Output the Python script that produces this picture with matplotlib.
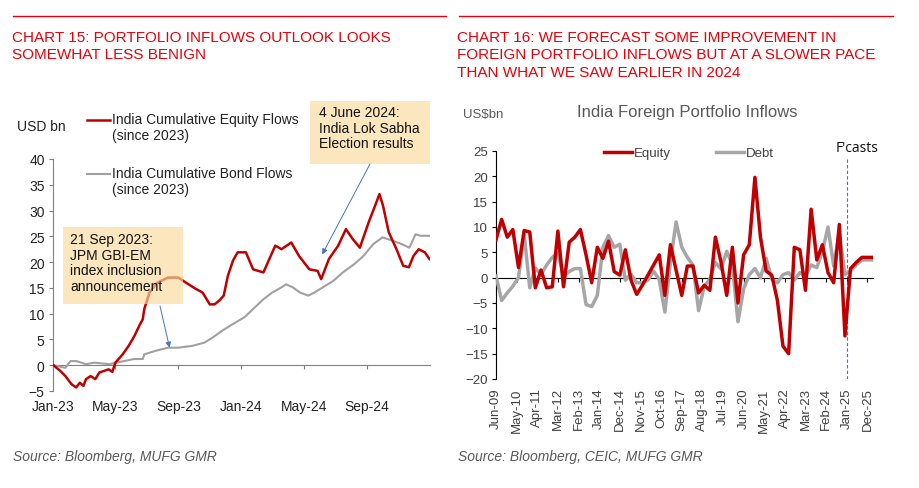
import matplotlib
matplotlib.use("Agg")
import matplotlib.pyplot as plt
import matplotlib.dates as mdates
import pandas as pd
from matplotlib.lines import Line2D
from matplotlib.patches import Rectangle

W, H = 920, 489

# ---- Chart 15: cumulative flows since 2023 (USD bn) ----
eq_dates = ["2023-01-02", "2023-01-15", "2023-01-25", "2023-02-06", "2023-02-15", "2023-02-22",
            "2023-03-01", "2023-03-06", "2023-03-15", "2023-03-24", "2023-04-01", "2023-04-10",
            "2023-04-19", "2023-04-26", "2023-05-02", "2023-05-16", "2023-05-28", "2023-06-08",
            "2023-06-17", "2023-06-24", "2023-06-27", "2023-07-07", "2023-07-22", "2023-08-12",
            "2023-09-01", "2023-09-16", "2023-10-05", "2023-10-18", "2023-11-01", "2023-11-10",
            "2023-11-19", "2023-11-28", "2023-12-06", "2023-12-16", "2023-12-25", "2024-01-10",
            "2024-01-24", "2024-02-13", "2024-03-07", "2024-03-19", "2024-04-07", "2024-04-22",
            "2024-05-12", "2024-05-28", "2024-06-04", "2024-06-19", "2024-07-07", "2024-07-22",
            "2024-08-04", "2024-08-18", "2024-09-04", "2024-09-19", "2024-09-25", "2024-10-02",
            "2024-10-13", "2024-10-28", "2024-11-10", "2024-11-21", "2024-11-30", "2024-12-10",
            "2024-12-22", "2024-12-31"]
eq_vals = [0, -1.1, -2.1, -3.7, -4.3, -3.4,
           -4.0, -2.7, -2.1, -2.7, -1.4, -1.1,
           -0.8, -1.3, 0.5, 2.1, 3.8, 5.7,
           7.6, 8.9, 10.9, 14.1, 16.0, 17.0,
           17.0, 16.0, 14.8, 14.1, 11.8, 11.8,
           12.5, 13.5, 17.3, 20.3, 21.9, 21.9,
           18.6, 18.0, 23.2, 22.5, 23.8, 21.2,
           18.6, 18.3, 16.7, 20.6, 23.2, 26.4,
           24.5, 22.8, 27.7, 31.6, 33.2, 30.9,
           25.8, 22.5, 19.3, 19.0, 21.2, 22.5,
           21.9, 20.6]

bond_dates = ["2023-01-02", "2023-01-25", "2023-02-04", "2023-02-15", "2023-02-25", "2023-03-06",
              "2023-03-22", "2023-04-21", "2023-05-02", "2023-05-19", "2023-06-07", "2023-06-24",
              "2023-06-27", "2023-07-19", "2023-08-12", "2023-09-01", "2023-09-28", "2023-10-22",
              "2023-11-07", "2023-11-25", "2023-12-16", "2024-01-07", "2024-01-24", "2024-02-13",
              "2024-03-01", "2024-03-19", "2024-03-28", "2024-04-10", "2024-04-24", "2024-05-10",
              "2024-05-22", "2024-06-07", "2024-06-28", "2024-07-16", "2024-08-07", "2024-08-25",
              "2024-09-13", "2024-10-01", "2024-10-10", "2024-10-22", "2024-11-07", "2024-11-22",
              "2024-12-04", "2024-12-14", "2024-12-31"]
bond_vals = [0, -0.5, 0.8, 0.8, 0.5, 0.2,
             0.5, 0.2, 0.5, 0.8, 1.2, 1.2,
             2.1, 2.8, 3.4, 3.4, 3.75, 4.4,
             5.4, 6.7, 8.0, 9.3, 10.9, 12.8,
             14.1, 15.1, 15.7, 15.1, 14.1, 13.5,
             14.1, 15.1, 16.4, 18.0, 19.6, 21.2,
             23.5, 24.8, 24.5, 24.1, 23.5, 22.8,
             25.4, 25.1, 25.1]

left_ticks = ["2023-01-01", "2023-05-01", "2023-09-01", "2024-01-01", "2024-05-01", "2024-09-01"]
left_ticklabels = ["Jan-23", "May-23", "Sep-23", "Jan-24", "May-24", "Sep-24"]

# ---- Chart 16: quarterly foreign portfolio flows (US$bn), Jun-09 onwards ----
q_start = "2009-06-01"
equity_q = [7.5, 11.5, 8, 9.5, 2, 9.3, 9, -2, 1.5, -2,
            -1.8, 9.2, -1.8, 7, 8, 9.5, 4.5, -1, 6, 3.8,
            7.2, 1.2, 0.5, 5.5, -0.5, -3.3, -1.5, 0.5, 2.5, 4.5,
            -3.5, 6.5, 1.5, -3.5, 2.3, 2.3, -3, -1.5, -2.5, 8,
            3, -3.5, 6, -5, 4.5, 6.5, 19.8, 8, 1.3, 0.5,
            -4.5, -13.5, -15, 6, 5.5, -2.5, 13.5, 3.5, 6.5, 1,
            -1, 10.5, -11.5, 1.8, 3, 4, 4, 4]
debt_q = [0.3, -4.5, -3, -1.7, 0, 8.5, -2, 1.9, 0.6, 2.5,
          4, 4.9, 0.3, 1.2, 1.8, 1.8, -5.3, -5.7, -3.5, 6,
          8.3, 6, 6.6, -0.5, 0.7, -1, -1, -0.5, 1.3, -0.4,
          -6.8, 3, 11, 6, 4, 2.5, -6.5, -1.7, -0.3, 3,
          1.7, 5.2, 2.5, -8.7, -2.2, 0.6, 1.8, 0, 3.8, -0.3,
          -1, 0.6, 1, -0.5, 1, 0.2, 2.5, 2, 5.2, 10,
          2.3, 9, 0.6, 1.3, 2.5, 3.5, 3.5, 3.5]
right_ticklabels = ["Jun-09", "May-10", "Apr-11", "Mar-12", "Feb-13", "Jan-14", "Dec-14",
                    "Nov-15", "Oct-16", "Sep-17", "Aug-18", "Jul-19", "Jun-20", "May-21",
                    "Apr-22", "Mar-23", "Feb-24", "Jan-25", "Dec-25"]
forecast_start = "2025-01-01"

RED = "#C00000"
GREY = "#A6A6A6"
TXT = "#404040"
HEAD_RED = "#E8000B"
BODY = ["Liberation Sans", "DejaVu Sans"]

plt.rcParams["font.family"] = BODY


def fx(x):
    return x / W


def fy(y):
    return 1 - y / H


fig = plt.figure(figsize=(W / 100, H / 100), dpi=100)

# headers
for x0, x1 in [(13, 446), (459, 893)]:
    fig.add_artist(Line2D([fx(x0), fx(x1)], [fy(17), fy(17)], color=HEAD_RED, lw=1))
fig.text(fx(12), fy(31), "CHART 15: PORTFOLIO INFLOWS OUTLOOK LOOKS\nSOMEWHAT LESS BENIGN",
         va="top", ha="left", color=HEAD_RED, size=11, linespacing=1.3)
fig.text(fx(457), fy(31), "CHART 16: WE FORECAST SOME IMPROVEMENT IN\n"
         "FOREIGN PORTFOLIO INFLOWS BUT AT A SLOWER PACE\nTHAN WHAT WE SAW EARLIER IN 2024",
         va="top", ha="left", color=HEAD_RED, size=11, linespacing=1.3)
fig.text(fx(13), fy(457), "Source: Bloomberg, MUFG GMR", style="italic", color="#595959",
         size=10, va="center")
fig.text(fx(458), fy(457), "Source: Bloomberg, CEIC, MUFG GMR", style="italic", color="#595959",
         size=10, va="center")

# ================= left chart =================
axL = fig.add_axes([fx(53), fy(392), fx(377), 232 / H])
xe = mdates.date2num(pd.to_datetime(eq_dates))
xb = mdates.date2num(pd.to_datetime(bond_dates))
axL.plot(xb, bond_vals, color="#A0A0A0", lw=1.5, zorder=3)
axL.plot(xe, eq_vals, color=RED, lw=1.8, zorder=4)

axL.set_ylim(-5, 40)
axL.set_yticks(range(-5, 41, 5))
axL.set_xlim(mdates.date2num(pd.Timestamp("2023-01-01")), mdates.date2num(pd.Timestamp("2025-01-01")))
lt = mdates.date2num(pd.to_datetime(left_ticks))
axL.set_xticks(lt)
axL.tick_params(axis="x", labelbottom=False, length=3, color="#808080", direction="out")
axL.tick_params(axis="y", length=3, color="#808080", labelsize=10, pad=3, labelcolor="#222222")
for s in ["top", "right"]:
    axL.spines[s].set_visible(False)
axL.spines["left"].set_color("#808080")
axL.spines["bottom"].set_color("#808080")
axL.spines["bottom"].set_position(("data", 0))
secL = axL.secondary_xaxis("bottom")
secL.set_xticks(lt, labels=left_ticklabels)
secL.tick_params(length=0, pad=6, labelsize=10, labelcolor="#222222")
secL.spines["bottom"].set_visible(False)

fig.text(fx(17), fy(127), "USD bn", size=10, va="center", color="#222222")
fig.add_artist(Line2D([fx(87), fx(110)], [fy(121), fy(121)], color=RED, lw=1.8))
fig.text(fx(112), fy(113), "India Cumulative Equity Flows\n(since 2023)", va="top", size=10,
         color="#222222", linespacing=1.15)
fig.add_artist(Line2D([fx(87), fx(110)], [fy(175), fy(175)], color="#A0A0A0", lw=1.5))
fig.text(fx(112), fy(167), "India Cumulative Bond Flows\n(since 2023)", va="top", size=10,
         color="#222222", linespacing=1.15)

# annotation boxes
for (x0, y0, x1, y1) in [(310, 102, 430, 165), (63, 228, 183, 305)]:
    axL.add_patch(Rectangle((fx(x0), fy(y1)), fx(x1 - x0), (y1 - y0) / H, transform=fig.transFigure,
                            facecolor="#F9D99A", edgecolor="none", alpha=0.65, clip_on=False, zorder=6))
axL.text(fx(319), fy(106), "4 June 2024:\nIndia Lok Sabha\nElection results", transform=fig.transFigure,
         va="top", size=10, color="#111111", linespacing=1.15, zorder=7)
axL.text(fx(70), fy(233), "21 Sep 2023:\nJPM GBI-EM\nindex inclusion\nannouncement", transform=fig.transFigure,
         va="top", size=10, color="#111111", linespacing=1.15, zorder=7)
arrow = dict(arrowstyle="-|>", color="#4472C4", lw=0.7, mutation_scale=8, shrinkA=0, shrinkB=0)
axL.annotate("", xy=(mdates.date2num(pd.Timestamp("2024-06-06")), 21.5), xycoords="data",
             xytext=(fx(370), fy(165)), textcoords="figure fraction", arrowprops=arrow,
             annotation_clip=False, zorder=7)
axL.annotate("", xy=(mdates.date2num(pd.Timestamp("2023-08-15")), 3.4), xycoords="data",
             xytext=(fx(160), fy(307)), textcoords="figure fraction", arrowprops=arrow,
             annotation_clip=False, zorder=7)

# ================= right chart =================
axR = fig.add_axes([fx(496), fy(380), fx(377), 228 / H])
qd = pd.date_range(q_start, periods=len(equity_q), freq="3MS")
xq = mdates.date2num(qd)
axR.plot(xq, debt_q, color=GREY, lw=2.5, label="Debt", zorder=3)
axR.plot(xq, equity_q, color=RED, lw=2.5, label="Equity", zorder=4)
axR.set_xlim(xq[0], xq[-1])
axR.set_ylim(-20, 25)
axR.set_yticks(range(-20, 26, 5))
rt = mdates.date2num(pd.date_range(q_start, periods=len(right_ticklabels), freq="11MS"))
axR.set_xticks(rt)
axR.tick_params(axis="x", labelbottom=False, length=3, color="black", direction="out")
axR.tick_params(axis="y", length=3, color="black", labelsize=9.5, pad=3, labelcolor=TXT)
for s in ["top", "right"]:
    axR.spines[s].set_visible(False)
axR.spines["left"].set_color("black")
axR.spines["bottom"].set_color("black")
axR.spines["bottom"].set_linewidth(0.8)
axR.spines["bottom"].set_position(("data", 0))
secR = axR.secondary_xaxis("bottom")
secR.set_xticks(rt, labels=right_ticklabels, rotation=90)
secR.tick_params(length=0, pad=6, labelsize=9.5, labelcolor=TXT)
secR.spines["bottom"].set_visible(False)

axR.axvline(mdates.date2num(pd.Timestamp(forecast_start)), ymin=0, ymax=0.965, color="#4472C4",
            lw=0.8, ls=(0, (3, 2)), zorder=2)
fig.text(fx(836), fy(149), "F'casts", family=["Open Sans", "DejaVu Sans"], size=10, va="center",
         color="#111111")
fig.text(fx(687), fy(113), "India Foreign Portfolio Inflows", ha="center", va="center", size=12,
         color="#595959")
fig.text(fx(463), fy(115), r"US\$bn", va="center", size=9.5, color="#595959")

h, l = axR.get_legend_handles_labels()
axR.legend(h[::-1], l[::-1], loc="center", bbox_to_anchor=(fx(689), fy(154)),
           bbox_transform=fig.transFigure, ncol=2, frameon=False, handlelength=2.1,
           handletextpad=0.15, columnspacing=3.4, fontsize=9.5, labelcolor=TXT)

fig.savefig("out.png", dpi=100)
